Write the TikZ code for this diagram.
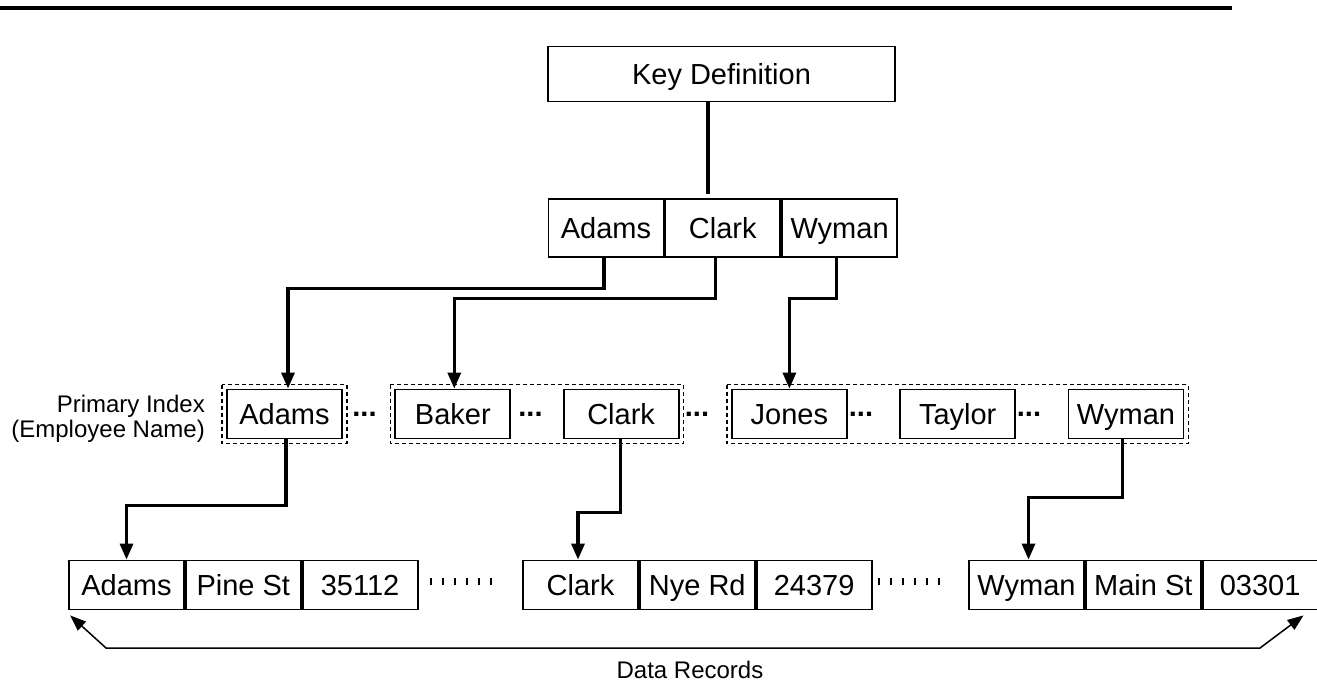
\documentclass[tikz,border=0pt]{standalone}
\usepackage{fontspec}
\setmainfont{Liberation Sans}
\usetikzlibrary{positioning,arrows.meta}
\newcommand{\cellfont}{\fontsize{29}{32}\selectfont}
\newcommand{\notefont}{\fontsize{24}{25}\selectfont}
\tikzset{
    CL1/.style ={rectangle, minimum width = 115pt, minimum height = 58pt, inner sep=0pt, text height=21pt, text depth=0pt, draw=black, line width=1.8pt, font=\cellfont},
    CL2/.style ={CL1, minimum height = 49pt},
    KY1/.style ={CL1, minimum width = 347pt, minimum height = 55pt},
    GR1/.style ={draw=black, line width=1.5pt, dash pattern=on 4pt off 3pt},
    AR1/.style ={line width=3.2pt, -{Triangle[length=16pt,width=13pt]}},
    AR2/.style ={line width=1.5pt, {Triangle[length=16pt,width=12pt]}-{Triangle[length=16pt,width=12pt]}},
    DT1/.style ={font=\cellfont\bfseries, inner sep=0pt, anchor=base},
    TX1/.style ={font=\notefont, inner sep=0pt}
}

\begin{document}
\begin{tikzpicture}[x=1pt,y=-1pt]
        \useasboundingbox (0,0) rectangle (1317,692);
        \draw[line width=4pt] (0,8)--(1232,8);
        % key and root
        \node[KY1] (key) at (721.5,74) {Key Definition};
        \node[CL1] (rA) at (606,228) {Adams};
        \node[CL1,right=0pt of rA] (rC) {Clark};
        \node[CL1,right=0pt of rC] (rW) {Wyman};
        \coordinate (keyend) at (708,194);
        \draw[line width=3.2pt] (key.south -| keyend)--(keyend);
        % primary index
        \node[CL2] (iA) at (284.5,414) {Adams};
        \node[CL2,right=51.5pt of iA] (iB) {Baker};
        \node[CL2,right=51.5pt of iB] (iC) {Clark};
        \node[CL2,right=51.5pt of iC] (iJ) {Jones};
        \node[CL2,right=51.5pt of iJ] (iT) {Taylor};
        \node[CL2,right=51.5pt of iT] (iW) {Wyman};
        \draw[GR1] ([shift={(-4,-4)}]iA.north west) rectangle ([shift={(4,4)}]iA.south east);
        \draw[GR1] ([shift={(-4,-4)}]iB.north west) rectangle ([shift={(4,4)}]iC.south east);
        \draw[GR1] ([shift={(-4,-4)}]iJ.north west) rectangle ([shift={(4,4)}]iW.south east);
        \foreach \x [count=\n] in {364.5,530.5,697,861,1029}
            \node[DT1] (dots\n) at (\x,416) {...};
        \node[TX1,align=right,anchor=east] (pidx) at (205,419) {Primary Index\\(Employee Name)};
        % data records
        \node[CL2] (dA1) at (126.5,585) {Adams};
        \node[CL2,right=0pt of dA1] (dA2) {Pine St};
        \node[CL2,right=0pt of dA2] (dA3) {35112};
        \node[CL2] (dC1) at (580.5,585) {Clark};
        \node[CL2,right=0pt of dC1] (dC2) {Nye Rd};
        \node[CL2,right=0pt of dC2] (dC3) {24379};
        \node[CL2] (dW1) at (1026.5,585) {Wyman};
        \node[CL2,right=0pt of dW1] (dW2) {Main St};
        \node[CL2,right=0pt of dW2] (dW3) {03301};
        \foreach \x in {431,443,...,491,879,891,...,939}
            \draw[line width=1.5pt] (\x,578)--(\x,585);
        % links
        \draw[AR1] ([xshift=-2pt]rA.south)--++(0,31) -| ([xshift=3.5pt]iA.north);
        \draw[AR1] ([xshift=-7pt]rC.south)--++(0,41) -| ([xshift=1.5pt]iB.north);
        \draw[AR1] ([xshift=-3pt]rW.south)--++(0,41) -| (iJ.north);
        \draw[AR1] ([xshift=1.5pt]iA.south)--++(0,66) -| (dA1.north);
        \draw[AR1] ([xshift=-1pt]iC.south)--++(0,73) -| ([xshift=-2.5pt]dC1.north);
        \draw[AR1] ([xshift=-3.5pt]iW.south)--++(0,58) -| ([xshift=2pt]dW1.north);
        \draw[AR2] ([shift={(2,5)}]dA1.south west)--(106,648)--(1260,648)--([shift={(-15,5)}]dW3.south east);
        \node[TX1] (drec) at (690,670) {Data Records};
    \end{tikzpicture}
\end{document}
